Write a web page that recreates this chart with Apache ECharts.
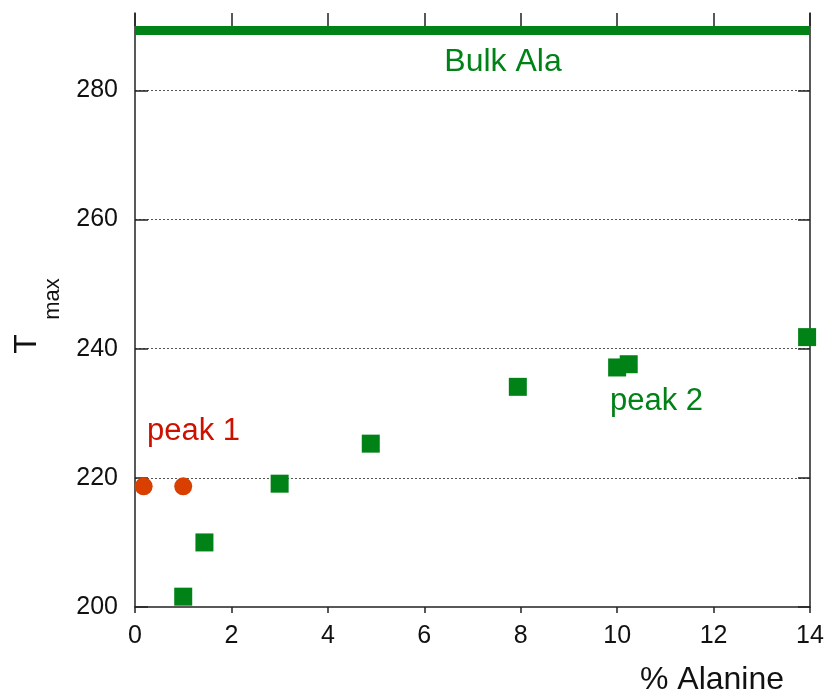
<!DOCTYPE html>
<html>
<head>
<meta charset="utf-8">
<script src="https://cdn.jsdelivr.net/npm/echarts@6/dist/echarts.min.js"></script>
<style>
html,body{margin:0;padding:0;background:#fff;}
#main{width:827px;height:698px;}
</style>
</head>
<body>
<div id="main"></div>
<script>
// ---- data ----
const peak1X = [0.18, 1.0];
const peak1Y = [218.7, 218.7];
const peak2X = [1.0, 1.44, 3.0, 4.89, 7.94, 10.0, 10.24, 13.94];
const peak2Y = [201.6, 210.0, 219.1, 225.3, 234.1, 237.1, 237.6, 241.8];
const bulkAla = 289.3;
const yTicks = [200, 220, 240, 260, 280];
const xTicks = [0, 2, 4, 6, 8, 10, 12, 14];

const FONT = "'Liberation Sans', Arial, Helvetica, sans-serif";
const GREEN = '#008216';
const RED = '#d94000';
const AX = '#222';

const chart = echarts.init(document.getElementById('main'), null, {renderer: 'canvas'});

const zip = (xs, ys) => xs.map((x, i) => [x, ys[i]]);

chart.setOption({
  animation: false,
  backgroundColor: '#fff',
  grid: {left: 135, right: 17, top: 13, bottom: 91, containLabel: false},
  xAxis: [{
    type: 'value', min: 0, max: 14, interval: 2, position: 'bottom',
    axisLine: {show: true, onZero: false, lineStyle: {color: AX, width: 1.5}},
    axisTick: {show: true, inside: false, length: 6, lineStyle: {color: AX, width: 1.5}},
    axisLabel: {show: true, margin: 17, color: '#111', fontSize: 25, fontFamily: FONT,
      customValues: xTicks},
    splitLine: {show: false}
  }, {
    type: 'value', min: 0, max: 14, interval: 2, position: 'top',
    axisLine: {show: false, onZero: false},
    axisTick: {show: true, inside: true, length: 13, lineStyle: {color: AX, width: 1.5}},
    axisLabel: {show: false},
    splitLine: {show: false}
  }],
  yAxis: [{
    type: 'value', min: 200, max: 292, interval: 20, position: 'left',
    axisLine: {show: true, onZero: false, lineStyle: {color: AX, width: 1.5}},
    axisTick: {show: true, inside: true, length: 13, customValues: yTicks, lineStyle: {color: AX, width: 1.5}},
    axisLabel: {show: true, margin: 17, color: '#111', fontSize: 25, fontFamily: FONT, customValues: yTicks},
    splitLine: {show: true, showMinLine: false, showMaxLine: true, lineStyle: {color: '#555', type: [2, 2], width: 1}}
  }, {
    type: 'value', min: 200, max: 292, interval: 20, position: 'right',
    axisLine: {show: true, onZero: false, lineStyle: {color: AX, width: 1.5}},
    axisTick: {show: true, inside: true, length: 12, customValues: yTicks, lineStyle: {color: AX, width: 1.5}},
    axisLabel: {show: false},
    splitLine: {show: false}
  }],
  series: [{
    name: 'peak 1', type: 'scatter', xAxisIndex: 0, yAxisIndex: 0,
    symbol: 'circle', symbolSize: 18,
    itemStyle: {color: RED, opacity: 1},
    data: zip(peak1X, peak1Y), z: 3
  }, {
    name: 'peak 2', type: 'scatter', xAxisIndex: 0, yAxisIndex: 0,
    symbol: 'rect', symbolSize: 18,
    itemStyle: {color: GREEN, opacity: 1},
    data: zip(peak2X, peak2Y), z: 3,
    markLine: {
      silent: true, symbol: 'none', label: {show: false},
      lineStyle: {color: GREEN, width: 9, type: 'solid', opacity: 1},
      data: [{yAxis: bulkAla}]
    }
  }],
  graphic: [
    {type: 'text', x: 503, y: 62,
      style: {text: 'Bulk Ala', fill: GREEN, font: '32px ' + FONT, textAlign: 'center', textVerticalAlign: 'middle'}},
    {type: 'text', x: 147, y: 431,
      style: {text: 'peak 1', fill: '#cc1100', font: '31px ' + FONT, textAlign: 'left', textVerticalAlign: 'middle'}},
    {type: 'text', x: 610, y: 401,
      style: {text: 'peak 2', fill: GREEN, font: '31px ' + FONT, textAlign: 'left', textVerticalAlign: 'middle'}},
    {type: 'text', x: 712, y: 680,
      style: {text: '% Alanine', fill: '#111', font: '32px ' + FONT, textAlign: 'center', textVerticalAlign: 'middle'}},
    {type: 'text', x: 27, y: 344, rotation: Math.PI / 2,
      style: {text: 'T', fill: '#111', font: '32px ' + FONT, textAlign: 'center', textVerticalAlign: 'middle'}},
    {type: 'text', x: 53, y: 299, rotation: Math.PI / 2,
      style: {text: 'max', fill: '#111', font: '22px ' + FONT, textAlign: 'center', textVerticalAlign: 'middle'}}
  ]
});
</script>
</body>
</html>
